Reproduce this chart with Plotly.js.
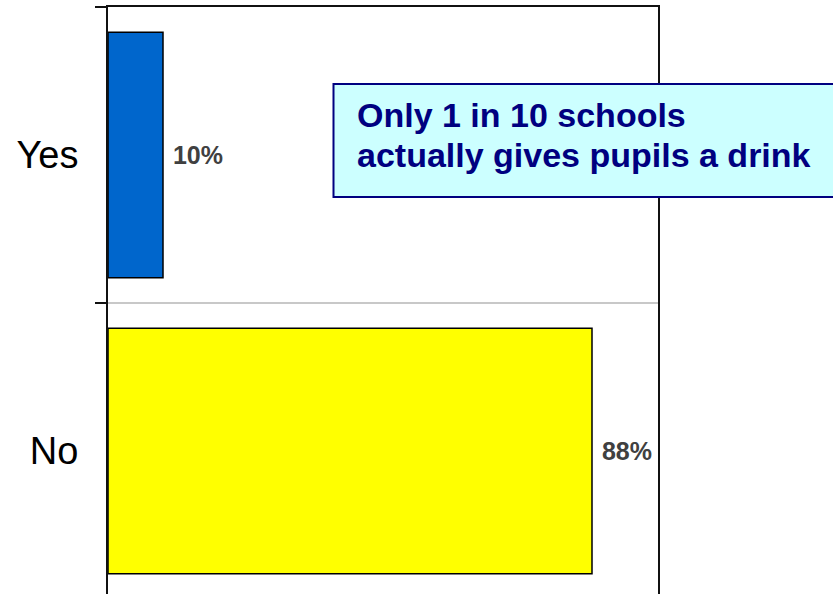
<!DOCTYPE html>
<html>
<head>
<meta charset="utf-8">
<script src="https://cdn.plot.ly/plotly-3.0.1.min.js"></script>
<style>
html,body{margin:0;padding:0;overflow:hidden;background:#fff;}
#chart{width:833px;height:600px;}
</style>
</head>
<body>
<div id="chart"></div>
<script>
const categories = ['Yes', 'No'];
const values = [10, 88];
const valueLabels = ['10%', '88%'];
const barColors = ['#0066CC', '#FFFF00'];
const noteLines = ['Only 1 in 10 schools', 'actually gives pupils a drink'];

const FONT = '"Liberation Sans", Arial, sans-serif';

const trace = {
  type: 'bar',
  orientation: 'h',
  x: values,
  y: categories,
  text: valueLabels,
  texttemplate: ' %{text}',
  textposition: 'outside',
  cliponaxis: false,
  textfont: {family: FONT, size: 25, color: '#404040', weight: 'bold'},
  marker: {color: barColors, line: {color: '#000000', width: 1.5}},
  hoverinfo: 'none'
};

const notePos = [0.818, 0.750];

const layout = {
  width: 833,
  height: 600,
  margin: {l: 108, r: 175, t: 7, b: 1, pad: 0},
  paper_bgcolor: '#ffffff',
  plot_bgcolor: '#ffffff',
  showlegend: false,
  bargap: 0.17,
  font: {family: FONT, color: '#000000'},
  xaxis: {
    range: [0, 100],
    showticklabels: false,
    showgrid: false,
    zeroline: false,
    ticks: '',
    showline: true,
    mirror: true,
    linecolor: '#111111',
    linewidth: 2
  },
  yaxis: {
    type: 'category',
    categoryorder: 'array',
    categoryarray: categories.slice().reverse(),
    range: [-0.5, 1.5],
    tickson: 'boundaries',
    ticks: 'outside',
    ticklen: 11,
    tickwidth: 2,
    tickcolor: '#111111',
    showgrid: true,
    gridcolor: '#c8c8c8',
    gridwidth: 2,
    showline: true,
    mirror: true,
    linecolor: '#111111',
    linewidth: 2,
    ticklabelstandoff: 20,
    tickfont: {family: FONT, size: 38, color: '#000000'}
  },
  shapes: [{
    type: 'rect', xref: 'paper', yref: 'paper',
    x0: 0.41, x1: 1.4, y0: 0.679, y1: 0.87,
    fillcolor: '#CCFFFF',
    line: {color: '#000080', width: 2},
    layer: 'above'
  }],
  annotations: noteLines.map((line, i) => ({
    xref: 'paper', yref: 'paper',
    x: 0.449, y: notePos[i],
    xanchor: 'left', yanchor: 'middle',
    align: 'left',
    showarrow: false,
    text: line,
    font: {family: FONT, size: 34, color: '#000080', weight: 'bold'}
  }))
};

Plotly.newPlot('chart', [trace], layout, {staticPlot: true, displayModeBar: false});
</script>
</body>
</html>
